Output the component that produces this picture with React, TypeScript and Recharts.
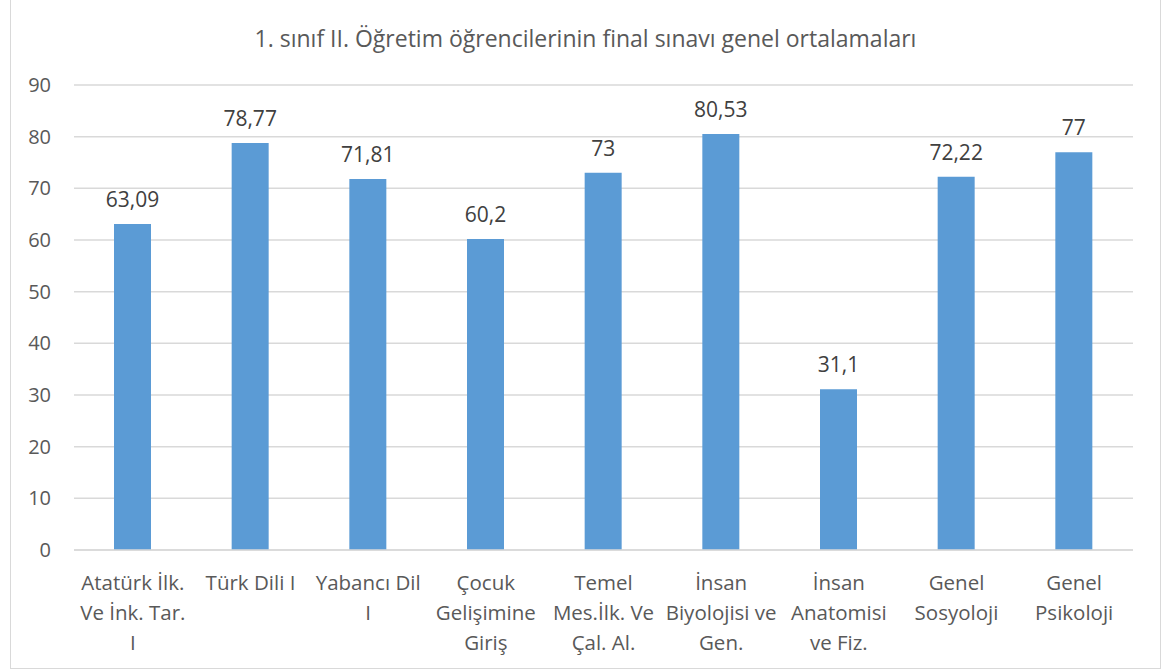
import React from "react";
import { BarChart, Bar, XAxis, YAxis, CartesianGrid, LabelList } from "recharts";

const TITLE = "1. sınıf II. Öğretim öğrencilerinin final sınavı genel ortalamaları";

const courses = [
  "Atatürk İlk.\nVe İnk. Tar.\nI",
  "Türk Dili I",
  "Yabancı Dil\nI",
  "Çocuk\nGelişimine\nGiriş",
  "Temel\nMes.İlk. Ve\nÇal. Al.",
  "İnsan\nBiyolojisi ve\nGen.",
  "İnsan\nAnatomisi\nve Fiz.",
  "Genel\nSosyoloji",
  "Genel\nPsikoloji",
];

const averages = [63.09, 78.77, 71.81, 60.2, 73, 80.53, 31.1, 72.22, 77];

const yTicks = [0, 10, 20, 30, 40, 50, 60, 70, 80, 90];

const data = courses.map((name, i) => ({ name, value: averages[i] }));

const FONT = "'Open Sans', sans-serif";
const TEXT = "#595959";

function CourseTick({ x, y, payload }: any) {
  const lines = String(payload.value).split("\n");
  return (
    <text x={x} y={y} textAnchor="middle" fill={TEXT} fontSize={20.5} fontFamily={FONT}>
      {lines.map((l, i) => (
        <tspan key={i} x={x} y={y + 38 + i * 30}>
          {l}
        </tspan>
      ))}
    </text>
  );
}

export default function App() {
  return (
    <div style={{ position: "absolute", left: 0, top: 0, width: 1163, height: 671, background: "#fff" }}>
      <div
        style={{
          position: "absolute",
          left: 10,
          top: -1,
          width: 1151,
          height: 670,
          border: "1px solid #d9d9d9",
          boxSizing: "border-box",
        }}
      />
      <div
        style={{
          position: "absolute",
          left: 10,
          width: 1151,
          top: 22,
          textAlign: "center",
          fontFamily: FONT,
          fontSize: 23,
          color: TEXT,
          lineHeight: "32px",
        }}
      >
        {TITLE}
      </div>
      <BarChart
        width={1163}
        height={671}
        data={data}
        margin={{ top: 85, right: 30, bottom: 0, left: 0 }}
        style={{ position: "absolute", left: 0, top: 0 }}
      >
        <CartesianGrid vertical={false} stroke="#d9d9d9" strokeWidth={1.5} />
        <XAxis
          dataKey="name"
          tick={<CourseTick />}
          tickLine={false}
          tickSize={0}
          axisLine={{ stroke: "#d9d9d9", strokeWidth: 1.5 }}
          interval={0}
          height={121}
        />
        <YAxis
          domain={[0, 90]}
          ticks={yTicks}
          width={74}
          axisLine={false}
          tickLine={false}
          tickSize={0}
          tickMargin={23}
          tick={{ fill: TEXT, fontSize: 20, fontFamily: FONT }}
        />
        <Bar dataKey="value" fill="#5b9bd5" barSize={37} isAnimationActive={false}>
          <LabelList
            dataKey="value"
            position="top"
            offset={17}
            fill="#404040"
            fontSize={21}
            fontFamily={FONT}
            formatter={(v: any) => String(v).replace(".", ",")}
          />
        </Bar>
      </BarChart>
    </div>
  );
}
